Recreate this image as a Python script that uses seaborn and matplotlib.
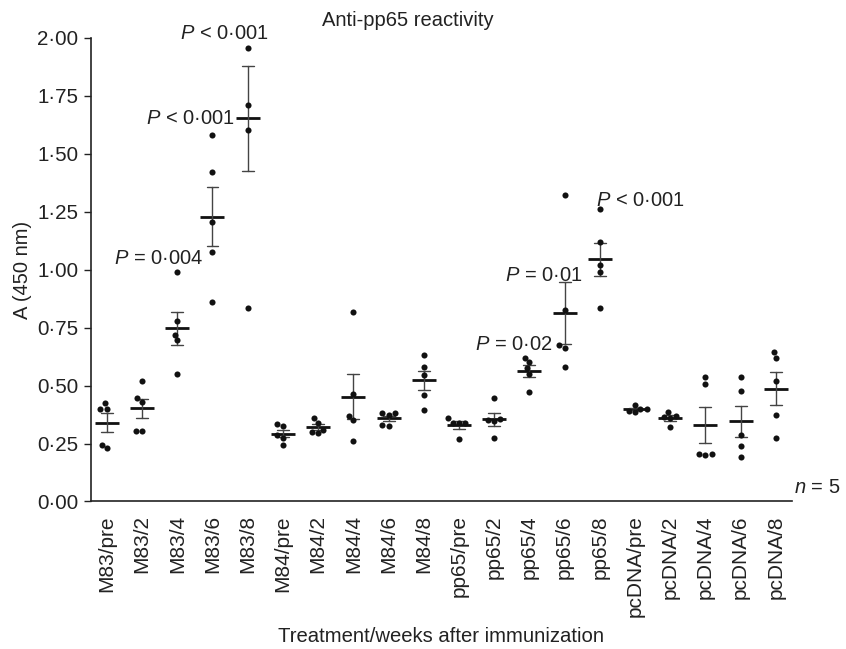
import numpy as np
import pandas as pd
import seaborn as sns
import matplotlib
matplotlib.use('Agg')
from matplotlib import pyplot as plt
import matplotlib.ticker as mtick

groups = ['M83/pre', 'M83/2', 'M83/4', 'M83/6', 'M83/8',
          'M84/pre', 'M84/2', 'M84/4', 'M84/6', 'M84/8',
          'pp65/pre', 'pp65/2', 'pp65/4', 'pp65/6', 'pp65/8',
          'pcDNA/pre', 'pcDNA/2', 'pcDNA/4', 'pcDNA/6', 'pcDNA/8']

# five mice per group, A(450 nm)
m83 = [[0.40, 0.40, 0.425, 0.23, 0.245],
       [0.52, 0.445, 0.43, 0.305, 0.305],
       [0.99, 0.78, 0.72, 0.695, 0.55],
       [1.58, 1.42, 1.205, 1.075, 0.86],
       [2.16, 1.955, 1.71, 1.60, 0.835]]
m84 = [[0.325, 0.335, 0.285, 0.275, 0.245],
       [0.36, 0.34, 0.31, 0.295, 0.30],
       [0.815, 0.465, 0.37, 0.35, 0.26],
       [0.38, 0.375, 0.38, 0.325, 0.33],
       [0.63, 0.58, 0.545, 0.46, 0.395]]
pp65 = [[0.36, 0.34, 0.34, 0.34, 0.27],
        [0.445, 0.35, 0.345, 0.355, 0.275],
        [0.62, 0.60, 0.575, 0.55, 0.47],
        [1.32, 0.825, 0.675, 0.66, 0.58],
        [1.26, 1.12, 1.02, 0.99, 0.835]]
pcdna = [[0.415, 0.40, 0.40, 0.385, 0.39],
         [0.385, 0.365, 0.37, 0.36, 0.32],
         [0.535, 0.505, 0.205, 0.20, 0.205],
         [0.535, 0.475, 0.285, 0.24, 0.19],
         [0.645, 0.62, 0.52, 0.375, 0.275]]

# significance labels: (text, group position, value, alignment)
p_labels = [('$P$ < 0·001', 3.35, 2.02, 'center'),
            ('$P$ < 0·001', 3.62, 1.652, 'right'),
            ('$P$ = 0·004', 2.74, 1.048, 'right'),
            ('$P$ = 0·01', 13.52, 0.976, 'right'),
            ('$P$ = 0·02', 12.66, 0.675, 'right'),
            ('$P$ < 0·001', 13.9, 1.297, 'left')]

values = m83 + m84 + pp65 + pcdna
df = pd.DataFrame({'group': np.repeat(groups, 5),
                   'A450': np.concatenate(values)})

sns.set_style('ticks')
plt.rcParams['font.family'] = ['Liberation Sans', 'DejaVu Sans']
plt.rcParams['mathtext.fontset'] = 'custom'
plt.rcParams['mathtext.it'] = 'Liberation Sans:italic'
plt.rcParams['mathtext.rm'] = 'Liberation Sans'

fig = plt.figure(figsize=(8.46, 6.49), dpi=100)
ax = fig.add_axes([0.1076, 0.2273, 0.8286, 0.7146])

sns.swarmplot(data=df, x='group', y='A450', order=groups, color='#111111',
              size=4.4, ax=ax, zorder=3)
sns.pointplot(data=df, x='group', y='A450', order=groups, errorbar='se',
              color='#111111', linestyle='none', marker='_', markersize=17,
              markeredgewidth=2, capsize=0.34,
              err_kws={'linewidth': 1, 'color': '#444444'}, ax=ax)

ax.set_ylim(0, 2)
ax.set_xlim(-0.45, 19.46)
ax.set_yticks(np.arange(0, 2.01, 0.25))
ax.yaxis.set_major_formatter(mtick.FuncFormatter(lambda v, p: f'{v:.2f}'.replace('.', '·')))
ax.tick_params(axis='y', labelsize=14.8, length=5, width=1, colors='#222222', pad=4)
ax.tick_params(axis='x', labelsize=15, length=0, rotation=90, pad=10, colors='#222222')
sns.despine(ax=ax)
for s in ['left', 'bottom']:
    ax.spines[s].set_color('#222222')
    ax.spines[s].set_linewidth(1.2)

ax.set_ylabel('A (450 nm)', fontsize=14.5, color='#222222', labelpad=4)
ax.set_xlabel('Treatment/weeks after immunization', fontsize=14.6, color='#222222', labelpad=7)
fig.text(408 / 846, 1 - 20 / 649, 'Anti-pp65 reactivity', ha='center', va='center',
         fontsize=14.5, color='#222222')

for txt, xp, yp, ha in p_labels:
    ax.text(xp, yp, txt, ha=ha, va='center', fontsize=14.5, color='#222222', clip_on=False)
ax.text(19.52, 0.06, '$n$ = 5', ha='left', va='center', fontsize=14.5, color='#222222', clip_on=False)

fig.savefig('out.png', dpi=100)
